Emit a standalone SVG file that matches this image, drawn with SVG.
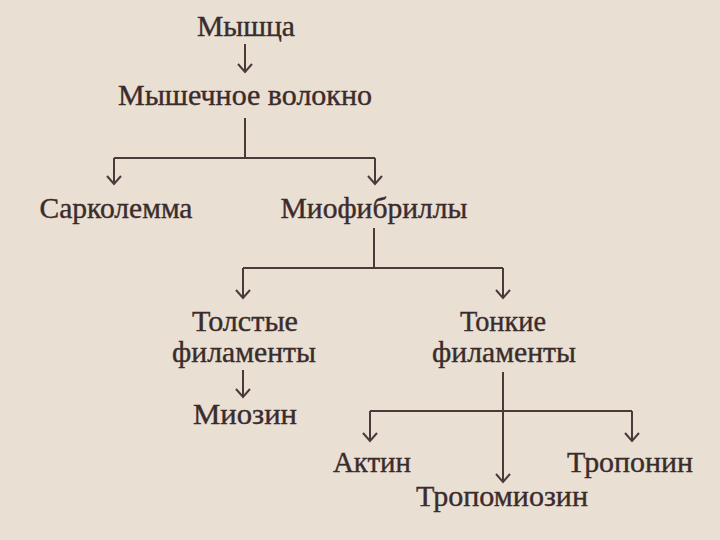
<svg xmlns="http://www.w3.org/2000/svg" width="720" height="540" viewBox="0 0 720 540">
<style>
text{font-family:"Liberation Serif","Times New Roman",serif;font-size:30px;fill:#3b2c2c;stroke:#3b2c2c;stroke-width:0.4;text-anchor:middle}
.c line{stroke:#4a3a3a;stroke-width:2;fill:none}
</style>
<defs>
<marker id="ah" markerWidth="12" markerHeight="16" refX="10" refY="8" orient="auto" markerUnits="userSpaceOnUse" viewBox="0 0 12 16">
<polyline points="2,1 10,8 2,15" fill="none" stroke="#4a3a3a" stroke-width="2"/>
</marker>
</defs>
<rect width="720" height="540" fill="#e9dfd3"/>
<g class="c" id="connectors">
<line x1="245" y1="44" x2="245" y2="72" marker-end="url(#ah)"/>
<line x1="245" y1="118" x2="245" y2="158"/>
<line x1="114" y1="158" x2="375" y2="158"/>
<line x1="114" y1="158" x2="114" y2="184" marker-end="url(#ah)"/>
<line x1="375" y1="158" x2="375" y2="184" marker-end="url(#ah)"/>
<line x1="374" y1="228" x2="374" y2="268"/>
<line x1="243" y1="268" x2="503" y2="268"/>
<line x1="243" y1="268" x2="243" y2="298" marker-end="url(#ah)"/>
<line x1="503" y1="268" x2="503" y2="298" marker-end="url(#ah)"/>
<line x1="243" y1="370" x2="243" y2="397" marker-end="url(#ah)"/>
<line x1="503" y1="372" x2="503" y2="482" marker-end="url(#ah)"/>
<line x1="370" y1="411" x2="632" y2="411"/>
<line x1="370" y1="411" x2="370" y2="441" marker-end="url(#ah)"/>
<line x1="632" y1="411" x2="632" y2="441" marker-end="url(#ah)"/>
</g>
<g id="n-myshca"><text x="246" y="36" textLength="98" lengthAdjust="spacingAndGlyphs">Мышца</text></g>
<g id="n-volokno"><text x="245" y="105" textLength="254" lengthAdjust="spacingAndGlyphs">Мышечное волокно</text></g>
<g id="n-sarkolemma"><text x="116" y="218" textLength="153" lengthAdjust="spacingAndGlyphs">Сарколемма</text></g>
<g id="n-miofibrilly"><text x="374" y="218" textLength="187" lengthAdjust="spacingAndGlyphs">Миофибриллы</text></g>
<g id="n-tolstye"><text x="245" y="331" textLength="106" lengthAdjust="spacingAndGlyphs">Толстые</text><text x="244" y="362" textLength="144" lengthAdjust="spacingAndGlyphs">филаменты</text></g>
<g id="n-tonkie"><text x="503" y="331" textLength="86" lengthAdjust="spacingAndGlyphs">Тонкие</text><text x="504" y="362" textLength="144" lengthAdjust="spacingAndGlyphs">филаменты</text></g>
<g id="n-miozin"><text x="245" y="424" textLength="104" lengthAdjust="spacingAndGlyphs">Миозин</text></g>
<g id="n-aktin"><text x="372" y="472" textLength="78" lengthAdjust="spacingAndGlyphs">Актин</text></g>
<g id="n-troponin"><text x="630" y="472" textLength="126" lengthAdjust="spacingAndGlyphs">Тропонин</text></g>
<g id="n-tropomiozin"><text x="502" y="506" textLength="172" lengthAdjust="spacingAndGlyphs">Тропомиозин</text></g>
</svg>
